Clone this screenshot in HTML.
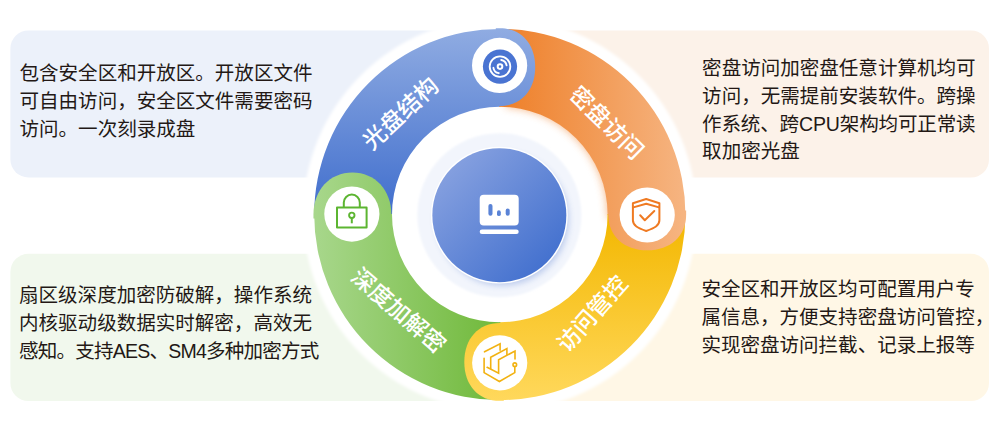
<!DOCTYPE html>
<html lang="zh-CN"><head><meta charset="utf-8"><title>加密光盘</title>
<style>
html,body{margin:0;padding:0;background:#fff}
body{width:1000px;height:434px;position:relative;overflow:hidden;font-family:"Liberation Sans",sans-serif}
.t{position:absolute;font-size:19.5px;line-height:27.8px;color:transparent;white-space:nowrap;letter-spacing:-0.45px}
.r{position:absolute;width:120px;height:28px;line-height:28px;text-align:center;font-size:23.8px;color:transparent;white-space:nowrap}
</style></head><body>
<svg width="1000" height="434" viewBox="0 0 1000 434" style="position:absolute;left:0;top:0">
<defs>
<linearGradient id="gb" gradientUnits="userSpaceOnUse" x1="0" y1="28" x2="0" y2="215"><stop offset="0" stop-color="#90ace2"/><stop offset="1" stop-color="#406ecd"/></linearGradient>
<linearGradient id="go" gradientUnits="userSpaceOnUse" x1="500" y1="0" x2="686" y2="0"><stop offset="0" stop-color="#ee7f28"/><stop offset="1" stop-color="#f6b582"/></linearGradient>
<linearGradient id="gy" gradientUnits="userSpaceOnUse" x1="0" y1="215" x2="0" y2="400"><stop offset="0" stop-color="#f3b700"/><stop offset="1" stop-color="#ffd85b"/></linearGradient>
<linearGradient id="gg" gradientUnits="userSpaceOnUse" x1="313" y1="0" x2="500" y2="0"><stop offset="0" stop-color="#a8d78c"/><stop offset="1" stop-color="#70b93a"/></linearGradient>
<linearGradient id="gc" gradientUnits="userSpaceOnUse" x1="452" y1="167" x2="547" y2="262"><stop offset="0" stop-color="#849fdf"/><stop offset="1" stop-color="#4572cf"/></linearGradient>
<filter id="blur" x="-20%" y="-20%" width="140%" height="140%"><feGaussianBlur stdDeviation="4.2"/></filter>
<filter id="wb" x="-5%" y="-5%" width="110%" height="110%"><feGaussianBlur stdDeviation="1.6"/></filter>
<filter id="hb" x="-10%" y="-10%" width="120%" height="120%"><feGaussianBlur stdDeviation="0.9"/></filter>
<filter id="cs" x="-30%" y="-30%" width="160%" height="160%"><feGaussianBlur stdDeviation="3.3"/></filter>
<filter id="halo" x="-30%" y="-30%" width="160%" height="160%"><feDropShadow dx="0" dy="0" stdDeviation="4" flood-color="#5f84d0" flood-opacity="0.28"/></filter>
<clipPath id="inner"><circle cx="499.8" cy="214.5" r="108.3"/></clipPath>
</defs>
<rect x="10.4" y="30.4" width="470" height="147" rx="18" fill="#ecf1fa"/>
<rect x="10.4" y="253.8" width="470" height="147.2" rx="18" fill="#f1f8ed"/>
<rect x="519" y="30.4" width="470" height="147.2" rx="18" fill="#fcf2e9"/>
<rect x="519" y="253.8" width="470" height="147.2" rx="18" fill="#fff7e6"/>
<circle cx="499.8" cy="214.5" r="196.7" fill="#fff" filter="url(#wb)"/>
<path d="M509.51 29.15A185.6 185.6 0 0 1 685.29 220.98L607.53 218.26A107.8 107.8 0 0 0 505.44 106.85Z" fill="#f08a3a" filter="url(#blur)" opacity="0.62" clip-path="url(#inner)"/>
<path d="M314.20 215.47A185.6 185.6 0 0 1 500.77 28.90L500.36 106.70A107.8 107.8 0 0 0 392.00 215.06Z" fill="url(#gb)"/>
<path d="M498.83 28.90A185.6 185.6 0 0 1 685.40 215.47L607.60 215.06A107.8 107.8 0 0 0 499.24 106.70Z" fill="url(#go)"/>
<path d="M685.40 213.53A185.6 185.6 0 0 1 498.83 400.10L499.24 322.30A107.8 107.8 0 0 0 607.60 213.94Z" fill="url(#gy)"/>
<path d="M500.77 400.10A185.6 185.6 0 0 1 314.20 213.53L392.00 213.94A107.8 107.8 0 0 0 500.36 322.30Z" fill="url(#gg)"/>
<path d="M495.80 28.15L499.80 28.15C521.04 28.15 535.20 43.73 535.20 67.10C535.20 90.47 521.04 106.05 499.80 106.05L495.80 106.05Z" fill="url(#gb)"/>
<path d="M686.15 210.50L686.15 214.50C686.15 235.98 670.57 250.30 647.20 250.30C623.83 250.30 608.25 235.98 608.25 214.50L608.25 210.50Z" fill="url(#go)"/>
<path d="M503.80 400.85L499.80 400.85C478.50 400.85 464.30 385.27 464.30 361.90C464.30 338.53 478.50 322.95 499.80 322.95L503.80 322.95Z" fill="url(#gy)"/>
<path d="M313.45 218.50L313.45 214.50C313.45 190.14 329.81 172.50 352.40 172.50C374.99 172.50 391.35 190.14 391.35 214.50L391.35 218.50Z" fill="url(#gg)"/>
<circle cx="499.6" cy="65.4" r="27.6" fill="#fff"/>
<circle cx="647.2" cy="215.0" r="27.6" fill="#fff"/>
<circle cx="499.7" cy="362.8" r="27.6" fill="#fff"/>
<circle cx="351.85" cy="214.1" r="27.6" fill="#fff"/>
<circle cx="499.35" cy="215.15" r="82" fill="#f2f5fc" filter="url(#hb)"/>
<circle cx="502.35" cy="218.95000000000002" r="66.5" fill="#3f6bc8" opacity="0.3" filter="url(#cs)"/>
<circle cx="499.35" cy="215.15" r="68.4" fill="#fff"/>
<circle cx="499.35" cy="215.15" r="67.0" fill="url(#gc)"/>
<rect x="479.7" y="194.7" width="39" height="30.7" rx="4" fill="#fff"/>
<rect x="479.7" y="229.4" width="39" height="4.6" rx="2.3" fill="#fff"/>
<rect x="488.4" y="204.1" width="4.1" height="11.6" rx="2" fill="#5a83d6"/>
<rect x="497" y="210.3" width="3.8" height="5.8" rx="1.9" fill="#5a83d6"/>
<rect x="505.7" y="208.5" width="4" height="7.2" rx="2" fill="#5a83d6"/>
<circle cx="500" cy="66.6" r="17.1" fill="#4a74d2"/>
<g fill="none" stroke="#fff" stroke-width="1.85" stroke-linecap="round"><circle cx="500" cy="66.6" r="10.3"/><path d="M501.20 60.00A6.7 6.7 0 0 1 506.60 65.40"/><path d="M498.80 73.20A6.7 6.7 0 0 1 493.40 67.80"/><circle cx="500" cy="66.6" r="2.3" stroke-width="2"/></g>
<g fill="none" stroke="#ef7a22" stroke-width="2.0" stroke-linejoin="round" stroke-linecap="round"><path d="M646.2 199L659.4 203.2V220.3C659.4 225.6 654.6 228 646.2 231C637.8 228 632.9 225.6 632.9 220.3V203.2Z"/><path d="M633.3 207.4L646.2 203.7L659 207.4"/><path d="M640.2 215.3L644.8 220.2L654.3 211"/></g>
<g fill="none" stroke="#5cb531" stroke-width="2.0" stroke-linejoin="round"><rect x="337" y="207.5" width="29.6" height="20"/><path d="M343.8 207.5V202.6A8 8 0 0 1 359.8 202.6V207.5"/><circle cx="351.8" cy="215.3" r="2.7" stroke-width="1.9"/><path d="M351.8 218V223.3" stroke-linecap="butt"/></g>
<g fill="none" stroke="#f2b211" stroke-width="1.6" stroke-linejoin="miter" stroke-linecap="round"><path d="M484.5 351.8L500.1 343.8V350.3"/><path d="M490.7 368.5V357.3L506.9 348.6V354.4"/><path d="M487.1 367.3L498.6 373.1V359.8L515 351V359"/><path d="M484.1 358.2V372.6L499.4 381.5L514.8 372.6V366.6"/><circle cx="514.8" cy="364.7" r="1.8"/></g>
<g font-family='"Liberation Sans", "Noto Sans CJK SC", sans-serif' font-size="19.55" fill="#231815">
<text x="19.5" y="79.9">包含安全区和开放区。开放区文件</text>
<text x="19.5" y="107.7">可自由访问，安全区文件需要密码</text>
<text x="19.5" y="135.5">访问。一次刻录成盘</text>
<text x="19" y="302">扇区级深度加密防破解，操作系统</text>
<text x="19" y="329.8">内核驱动级数据实时解密，高效无</text>
<text x="19" y="357.6" textLength="300.4" lengthAdjust="spacing">感知。支持AES、SM4多种加密方式</text>
<text x="702.1" y="74.9">密盘访问加密盘任意计算机均可</text>
<text x="702.1" y="102.7">访问，无需提前安装软件。跨操</text>
<text x="702.1" y="130.5" textLength="273.5" lengthAdjust="spacing">作系统、跨CPU架构均可正常读</text>
<text x="702.1" y="158.3">取加密光盘</text>
<text x="701.4" y="296.3">安全区和开放区均可配置用户专</text>
<text x="701.4" y="324.1">属信息，方便支持密盘访问管控，</text>
<text x="701.4" y="351.9">实现密盘访问拦截、记录上报等</text>
</g>
<g font-family='"Liberation Sans", "Noto Sans CJK SC", sans-serif' font-weight="500" fill="#fff" text-anchor="middle">
<text transform="translate(400.4 113.2) rotate(-43)" x="0" y="8.5" font-size="23.3">光盘结构</text>
<text transform="translate(607.0 122.55) rotate(44.4)" x="0" y="8.5" font-size="23.1">密盘访问</text>
<text transform="translate(592.0 313.6) rotate(-48.4)" x="0" y="8.5" font-size="23.1">访问管控</text>
<text transform="translate(398.8 310.35) rotate(40.8)" x="0" y="8.5" font-size="23.1">深度加解密</text>
</g>
</svg>
<div class="t" style="left:20px;top:57px;width:300px">包含安全区和开放区。开放区文件<br>可自由访问，安全区文件需要密码<br>访问。一次刻录成盘</div><div class="t" style="left:20px;top:280px;width:300px">扇区级深度加密防破解，操作系统<br>内核驱动级数据实时解密，高效无<br>感知。支持AES、SM4多种加密方式</div><div class="t" style="left:702px;top:52px;width:280px">密盘访问加密盘任意计算机均可<br>访问，无需提前安装软件。跨操<br>作系统、跨CPU架构均可正常读<br>取加密光盘</div><div class="t" style="left:702px;top:274px;width:290px">安全区和开放区均可配置用户专<br>属信息，方便支持密盘访问管控，<br>实现密盘访问拦截、记录上报等</div><div class="r" style="left:340.7px;top:99px;transform:rotate(-45deg)">光盘结构</div><div class="r" style="left:548.8px;top:108.2px;transform:rotate(45deg)">密盘访问</div><div class="r" style="left:532.5px;top:299.9px;transform:rotate(-45deg)">访问管控</div><div class="r" style="left:339.4px;top:295.7px;transform:rotate(45deg)">深度加解密</div>
</body></html>
